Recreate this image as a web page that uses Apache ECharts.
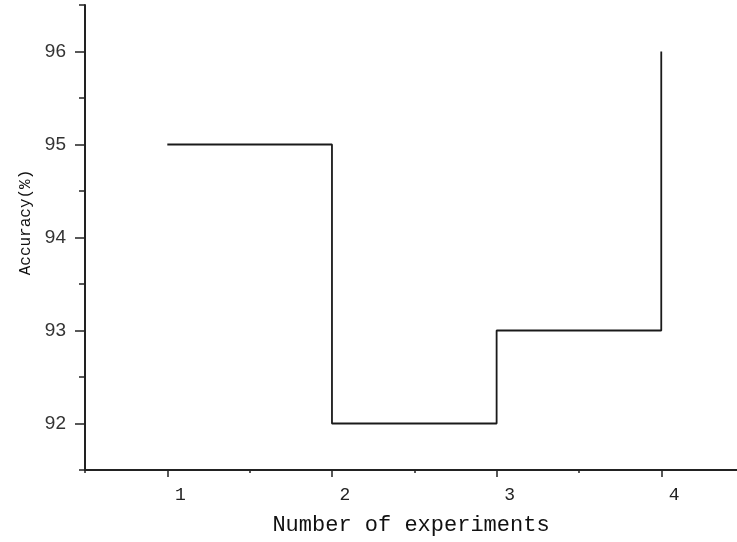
<!DOCTYPE html>
<html>
<head>
<meta charset="utf-8">
<script src="https://cdn.jsdelivr.net/npm/echarts@6/dist/echarts.min.js"></script>
<style>html,body{margin:0;padding:0;background:#fff}#c{width:737px;height:542px}</style>
</head>
<body>
<div id="c"></div>
<script>
var experiments = [1, 2, 3, 4];
var accuracy = [95, 92, 93, 96];
var xMajorTicks = [1, 2, 3, 4];
var xMinorTicks = [0.5, 1.5, 2.5, 3.5];
var yMajorTicks = [92, 93, 94, 95, 96];
var yMinorTicks = [91.5, 92.5, 93.5, 94.5, 95.5, 96.5];
var xTitle = 'Number of experiments';
var yTitle = 'Accuracy(%)';

var axisColor = '#222';
var chart = echarts.init(document.getElementById('c'), null, {renderer: 'canvas'});
var data = experiments.map(function (x, i) { return [x, accuracy[i]]; });

chart.setOption({
  animation: false,
  backgroundColor: '#fff',
  grid: {left: 85, right: 0, top: 5, bottom: 72, containLabel: false},
  xAxis: [
    {
      type: 'value', min: 0.5, max: 4.46,
      name: xTitle, nameLocation: 'middle', nameGap: 44,
      nameTextStyle: {fontFamily: 'Liberation Mono', fontSize: 22, color: '#111', padding: [0, 0, 0, 0]},
      axisLine: {show: true, onZero: false, lineStyle: {color: axisColor, width: 2}},
      axisTick: {show: true, customValues: xMajorTicks, length: 7, lineStyle: {color: axisColor, width: 1.5}},
      axisLabel: {customValues: xMajorTicks, margin: 16, padding: [0, 0, 0, 26],
        fontFamily: 'Liberation Mono', fontSize: 18, color: '#222'},
      splitLine: {show: false}
    },
    {
      type: 'value', min: 0.5, max: 4.46, position: 'bottom',
      axisLine: {show: false},
      axisTick: {show: true, customValues: xMinorTicks, length: 3, lineStyle: {color: axisColor, width: 1.5}},
      axisLabel: {show: false},
      splitLine: {show: false}
    }
  ],
  yAxis: [
    {
      type: 'value', min: 91.5, max: 96.5,
      name: yTitle, nameLocation: 'middle', nameGap: 50, nameRotate: 90,
      nameTextStyle: {fontFamily: 'Liberation Mono', fontSize: 16, color: '#111', padding: [0, 0, 0, 30]},
      axisLine: {show: true, onZero: false, lineStyle: {color: axisColor, width: 2}},
      axisTick: {show: true, customValues: yMajorTicks, length: 10, lineStyle: {color: axisColor, width: 1.5}},
      axisLabel: {customValues: yMajorTicks, margin: 19,
        fontFamily: 'Liberation Sans', fontSize: 19, color: '#333'},
      splitLine: {show: false}
    },
    {
      type: 'value', min: 91.5, max: 96.5, position: 'left',
      axisLine: {show: false},
      axisTick: {show: true, customValues: yMinorTicks, length: 6, lineStyle: {color: axisColor, width: 1.5}},
      axisLabel: {show: false},
      splitLine: {show: false}
    }
  ],
  series: [{
    type: 'line', step: 'end', xAxisIndex: 0, yAxisIndex: 0,
    data: data, symbol: 'none',
    lineStyle: {color: '#1a1a1a', width: 1.8}
  }]
});
</script>
</body>
</html>
